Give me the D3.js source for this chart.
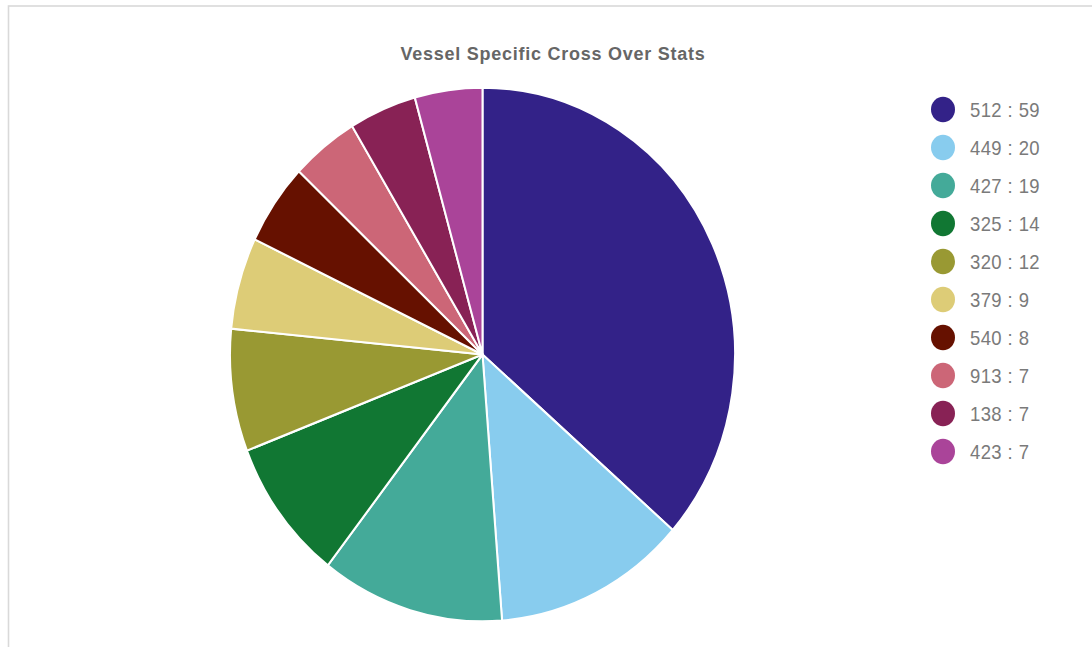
<!DOCTYPE html>
<html>
<head>
<meta charset="utf-8">
<script src="https://cdn.jsdelivr.net/npm/d3@7"></script>
<style>
  html, body { margin: 0; padding: 0; background: #fff; }
  svg { display: block; }
</style>
</head>
<body>
<div id="chart"></div>
<script>
// Cross-over counts per vessel
const vessels = ["512", "449", "427", "325", "320", "379", "540", "913", "138", "423"];
const counts  = [59, 20, 19, 14, 12, 9, 8, 7, 7, 7];
const colors  = ["#332288", "#88CCEE", "#44AA99", "#117733", "#999933",
                 "#DDCC77", "#661100", "#CC6677", "#882255", "#AA4499"];
const title = "Vessel Specific Cross Over Stats";

const W = 1092, H = 647;
const sy = 1.057;           // slight vertical stretch of the whole drawing

const svg = d3.select("#chart").append("svg")
  .attr("width", W).attr("height", H);

// panel border
svg.append("rect")
  .attr("x", 8.5).attr("y", 6).attr("width", W + 20).attr("height", H + 20)
  .attr("fill", "#fff").attr("stroke", "#d9d9d9").attr("stroke-width", 1.6);

const root = svg.append("g").attr("transform", `scale(1,${sy})`);

root.append("text")
  .attr("x", 553).attr("y", 60 / sy)
  .attr("text-anchor", "middle")
  .attr("font-family", "'Liberation Sans', Arial, sans-serif")
  .attr("font-weight", "bold")
  .attr("font-size", 18)
  .attr("letter-spacing", 0.75)
  .attr("fill", "#666")
  .text(title);

const data = vessels.map((v, i) => ({ vessel: v, count: counts[i], color: colors[i] }));

const cx = 482.5, cy = 354.5 / sy, r = 252.5;
const pie = d3.pie().value(d => d.count).sort(null);
const arc = d3.arc().innerRadius(0).outerRadius(r);

root.append("g")
  .attr("transform", `translate(${cx},${cy})`)
  .selectAll("path")
  .data(pie(data))
  .join("path")
  .attr("d", arc)
  .attr("fill", d => d.data.color)
  .attr("stroke", "#fff")
  .attr("stroke-width", 2)
  .attr("stroke-linejoin", "round");

// legend
const legendY = d3.scaleLinear().domain([0, 1]).range([109.5 / sy, 147.5 / sy]);
const lg = root.append("g").selectAll("g")
  .data(data)
  .join("g")
  .attr("transform", (d, i) => `translate(943,${legendY(i)})`);

lg.append("circle")
  .attr("r", 12)
  .attr("fill", d => d.color);

lg.append("text")
  .attr("x", 27)
  .attr("dy", "0.36em")
  .attr("font-family", "'Liberation Sans', Arial, sans-serif")
  .attr("font-size", 18.5)
  .attr("letter-spacing", 0.4)
  .attr("fill", "#7a7a7a")
  .text(d => `${d.vessel} : ${d.count}`);
</script>
</body>
</html>
